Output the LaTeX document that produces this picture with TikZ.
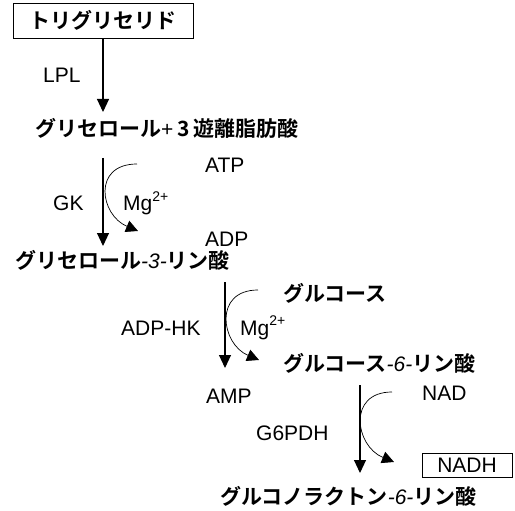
\documentclass[tikz,border=0pt]{standalone}
\usepackage{fontspec}
\setmainfont{Liberation Sans}
\newfontfamily\jp[BoldFont={Noto Sans CJK JP Bold}]{Noto Sans CJK JP}
\usetikzlibrary{arrows.meta}
\tikzset{
 jptxt/.style={font=\jp\bfseries\fontsize{21}{21}\selectfont, inner sep=0pt, anchor=base west},
 lbl/.style={font=\fontsize{21}{21}\selectfont, inner sep=0pt, anchor=base west},
 mainarrow/.style={line width=1.1pt, -{Triangle[width=12pt,length=13pt]}},
 curvearrow/.style={line width=0.7pt, -{Triangle[width=12pt,length=12pt]}},
 boxed/.style={draw, line width=0.9pt, inner sep=0pt},
}
\newcommand{\itnum}[1]{{\normalfont\itshape\mdseries-#1-}}
\newcommand{\sups}[1]{\raisebox{0.45em}{\fontsize{14}{14}\selectfont #1}}
\begin{document}
\begin{tikzpicture}[x=1pt,y=-1pt]
\useasboundingbox (0,0) rectangle (515,511);
% substances
\node[boxed, minimum width=180pt, minimum height=35pt, font=\jp\bfseries\fontsize{21}{21}\selectfont] (tg) at (103,20.5) {トリグリセリド};
\node[jptxt] (gly) at (35,136) {グリセロール{\normalfont\mdseries +}\hspace{4pt}3\hspace{4pt}遊離脂肪酸};
\node[jptxt] (g3p) at (15,268) {グリセロール\itnum{3}リン酸};
\node[jptxt] (glc) at (283,301) {グルコース};
\node[jptxt] (g6p) at (283,371) {グルコース\itnum{6}リン酸};
\node[jptxt] (gl6p) at (220,504) {グルコノラクトン\itnum{6}リン酸};
% labels
\node[lbl] (lpl) at (43,83) {LPL};
\node[lbl] (gk) at (53,211) {GK};
\node[lbl] (mg1) at (123,211) {Mg\sups{2+}};
\node[lbl] (atp) at (205,173) {ATP};
\node[lbl] (adp) at (205,246) {ADP};
\node[lbl] (adphk) at (121,335) {ADP-HK};
\node[lbl] (mg2) at (240,335) {Mg\sups{2+}};
\node[lbl] (amp) at (206,403) {AMP};
\node[lbl] (nad) at (422,400) {NAD};
\node[lbl] (g6pdh) at (256,440) {G6PDH};
\node[boxed, minimum width=90pt, minimum height=24pt, font=\fontsize{21}{21}\selectfont] (nadh) at (467,465) {NADH};
% arrow end points
\coordinate (a1e) at (103,112);
\coordinate (a2s) at (103,158);
\coordinate (a2e) at (103,246);
\coordinate (a3s) at (225,282);
\coordinate (a3e) at (225,368);
\coordinate (a4s) at (360,385);
\coordinate (a4e) at (360,473);
\coordinate (c1s) at (137,164);
\coordinate (c1e) at (138,231);
\coordinate (c2s) at (258,290);
\coordinate (c2e) at (259,360);
\coordinate (c3s) at (392,392);
\coordinate (c3e) at (394,462);
% main arrows
\draw[mainarrow] (tg.south) -- (a1e);
\draw[mainarrow] (a2s) -- (a2e);
\draw[mainarrow] (a3s) -- (a3e);
\draw[mainarrow] (a4s) -- (a4e);
% curved arrows
\draw[curvearrow] (c1s) .. controls (92,164) and (100,215) .. (c1e);
\draw[curvearrow] (c2s) .. controls (213,290) and (221,344) .. (c2e);
\draw[curvearrow] (c3s) .. controls (347,392) and (355,446) .. (c3e);
\end{tikzpicture}
\end{document}
